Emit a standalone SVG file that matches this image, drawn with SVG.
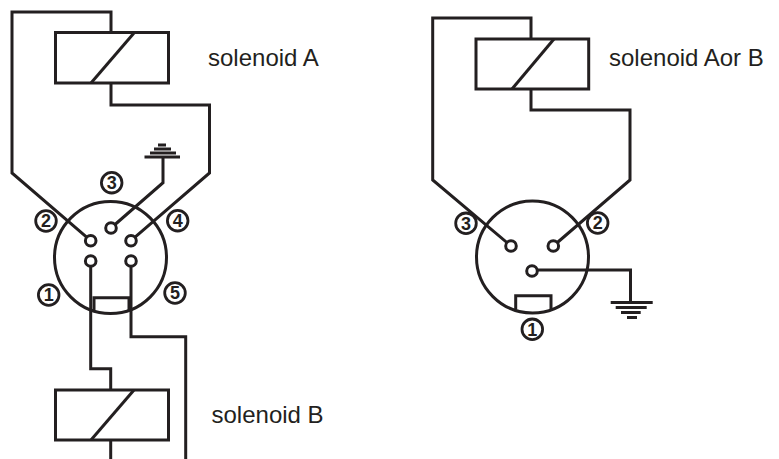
<svg xmlns="http://www.w3.org/2000/svg" width="779" height="459" viewBox="0 0 779 459">
<style>
.w{fill:none;stroke:#231f20;stroke-width:3;stroke-linejoin:miter}
.t{fill:none;stroke:#231f20;stroke-width:3}
.coil{fill:#fff;stroke:#231f20;stroke-width:3}
.pin{fill:#fff;stroke:#231f20;stroke-width:3}
.body{fill:none;stroke:#231f20;stroke-width:3}
.lab{font-family:"Liberation Sans",Arial,sans-serif;font-size:24px;fill:#231f20}
.nc{fill:#fff;stroke:#231f20;stroke-width:2.8}
.nd{font-family:"Liberation Sans",Arial,sans-serif;font-size:18px;font-weight:bold;fill:#231f20;text-anchor:middle}
</style>
<rect width="779" height="459" fill="#fff"/>
<g id="connectors">
<path class="w" d="M111 32V12H12V173L90.7 240.7"/>
<path class="w" d="M111 83V105H209.5V173L131 240.7"/>
<path class="w" d="M111 228L163 182.7V157"/>
<path class="w" d="M90.7 261V368.7H110.7V390"/>
<path class="w" d="M131 261V336.7H185.7V459"/>
<path class="w" d="M110.7 440V459"/>
<path class="w" d="M531 39V18H432.7V180L511 246"/>
<path class="w" d="M531 89V110H630V180L553.3 246"/>
<path class="w" d="M532 270H630.5V302"/>
</g>
<g id="connector-a"><circle class="body" cx="110.5" cy="257.5" r="56"/>
<path class="t" d="M94 310V297.7H129V310"/>
<circle class="pin" cx="90.7" cy="240.7" r="5.3"/><circle class="pin" cx="131" cy="240.7" r="5.3"/><circle class="pin" cx="111" cy="228" r="5.3"/><circle class="pin" cx="90.7" cy="261" r="5.3"/><circle class="pin" cx="131" cy="261" r="5.3"/></g>
<g id="connector-b"><circle class="body" cx="532.5" cy="257" r="56"/>
<path class="t" d="M515.7 309V295.7H551V309"/>
<circle class="pin" cx="511" cy="246" r="5.3"/><circle class="pin" cx="553.3" cy="246" r="5.3"/><circle class="pin" cx="532" cy="271" r="5.3"/></g>
<g id="solenoid-a"><rect class="coil" x="55.5" y="32.5" width="113" height="50.5"/><path class="w" d="M134 33L91 83"/><text class="lab" x="208" y="66">solenoid A</text></g>
<g id="solenoid-b"><rect class="coil" x="55.5" y="390" width="113" height="50"/><path class="w" d="M134 390L91 440"/><text class="lab" x="211.5" y="423">solenoid B</text></g>
<g id="solenoid-ab"><rect class="coil" x="476" y="39" width="112.7" height="50"/><path class="w" d="M554 39L512 89"/><text class="lab" x="609" y="66">solenoid Aor B</text></g>
<g id="ground-a"><path class="t" d="M144.5 157H180M150 153H176M154 149H171M158 145H166"/></g>
<g id="ground-b"><path class="t" d="M610.7 302.5H652.7M615.7 307.5H646.7M621 312.5H640.7M627 317.5H637"/></g>
<g id="pin-labels">
<circle class="nc" cx="111.7" cy="182.7" r="10.3"/><text class="nd" x="111.7" y="189">3</text>
<circle class="nc" cx="46" cy="221" r="10.3"/><text class="nd" x="46" y="227.3">2</text>
<circle class="nc" cx="177.7" cy="220.7" r="10.3"/><text class="nd" x="177.7" y="227">4</text>
<circle class="nc" cx="48.7" cy="295" r="10.3"/><text class="nd" x="48.7" y="301.3">1</text>
<circle class="nc" cx="175" cy="293" r="10.3"/><text class="nd" x="175" y="299.3">5</text>
<circle class="nc" cx="466" cy="223.3" r="10.3"/><text class="nd" x="466" y="229.6">3</text>
<circle class="nc" cx="597.7" cy="223" r="10.3"/><text class="nd" x="597.7" y="229.3">2</text>
<circle class="nc" cx="532.3" cy="329.3" r="10.3"/><text class="nd" x="532.3" y="335.6">1</text>
</g>
</svg>
